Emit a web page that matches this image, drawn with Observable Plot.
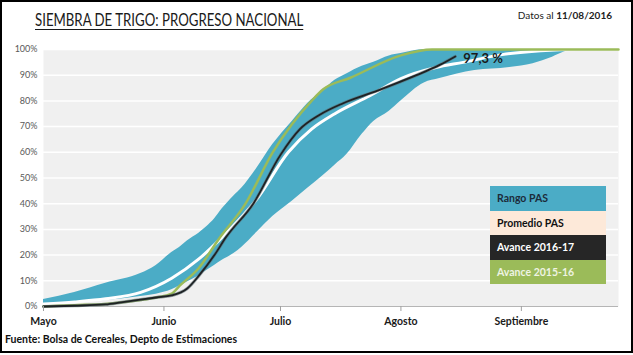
<!DOCTYPE html>
<html>
<head>
<meta charset="utf-8">
<script src="https://cdn.jsdelivr.net/npm/d3@7"></script>
<script src="https://cdn.jsdelivr.net/npm/@observablehq/plot@0.6"></script>
<style>
  html, body { margin: 0; padding: 0; background: #fff; }
  #wrap { position: relative; width: 633px; height: 355px; overflow: hidden; font-family: Lato, "Open Sans", sans-serif; }
  #border { position: absolute; left: 0; top: 0; width: 629px; height: 349px; border: 2px solid #000; pointer-events: none; }
  #title { position: absolute; left: 35px; top: 8px; font-size: 18px; color: #1a1a1a; text-decoration: underline; text-underline-offset: 3px; white-space: nowrap; transform: scaleX(0.735); transform-origin: 0 0; }
  #date { position: absolute; right: 21px; top: 9px; font-size: 10px; color: #222; white-space: nowrap; }
  #chart { position: absolute; left: 0; top: 40px; }
  #foot { position: absolute; left: 5px; top: 333px; font-size: 10.5px; font-weight: bold; color: #111; white-space: nowrap; }
  #legend { position: absolute; left: 490px; top: 186px; width: 116px; }
  #legend div { height: 24.5px; line-height: 24.5px; padding-left: 7px; font-size: 10.5px; font-weight: bold; box-sizing: border-box; }
</style>
</head>
<body>
<div id="wrap">
  <div id="title">SIEMBRA DE TRIGO: PROGRESO NACIONAL</div>
  <div id="date">Datos al <b>11/08/2016</b></div>
  <div id="chart"></div>
  <div id="legend"></div>
  <div id="foot">Fuente: Bolsa de Cereales, Depto de Estimaciones</div>
  <div id="border"></div>
</div>
<script>
// ---- Data ----
const bandDates = ["2016-05-01","2016-05-09","2016-05-17","2016-05-26","2016-05-30","2016-06-03","2016-06-05","2016-06-07","2016-06-10","2016-06-12","2016-06-14","2016-06-16","2016-06-19","2016-06-21","2016-06-25","2016-06-29","2016-07-04","2016-07-08","2016-07-12","2016-07-15","2016-07-18","2016-07-22","2016-07-25","2016-07-29","2016-08-01","2016-08-07","2016-08-11","2016-08-20","2016-08-29","2016-09-04","2016-09-09","2016-09-12","2016-09-15","2016-09-26"];
const bandLow  = [0.8, 1.6, 2.3, 3.9, 4.8, 6.5, 8, 9.5, 12, 14, 16, 18, 20.6, 23, 29, 35, 41, 46, 51, 55, 59, 67, 72, 76, 80, 87, 88.7, 91.8, 93, 94.5, 97, 99, 100, 100];
const bandHigh = [2.7, 5.4, 9, 12.8, 16, 21, 23, 25.5, 28.5, 31, 34, 38, 43, 46, 54, 63, 72, 79, 84, 88, 90.5, 93.5, 95, 97.5, 98.4, 100, 100, 100, 100, 100, 100, 100, 100, 100];

const promDates  = ["2016-05-01","2016-05-09","2016-05-17","2016-05-26","2016-06-03","2016-06-10","2016-06-16","2016-06-25","2016-07-03","2016-07-09","2016-07-15","2016-07-24","2016-08-01","2016-08-10","2016-08-17","2016-08-27","2016-09-06","2016-09-16","2016-09-26"];
const promValues = [1, 1.8, 3, 5.5, 11, 18.5, 27, 42, 60, 69, 75, 82, 88.7, 93, 95, 98, 99.5, 100, 100];

const av1617Dates  = ["2016-05-01","2016-05-09","2016-05-17","2016-05-21","2016-05-30","2016-06-03","2016-06-07","2016-06-10","2016-06-14","2016-06-17","2016-06-24","2016-07-01","2016-07-06","2016-07-11","2016-07-17","2016-07-26","2016-08-05","2016-08-11","2016-08-15"];
const av1617Values = [0, 0.3, 0.8, 1.6, 3.5, 4.3, 7, 12, 20, 27, 40, 59, 69, 74.5, 79, 84, 90, 94, 97.3];

const av1516Dates  = ["2016-05-01","2016-05-09","2016-05-17","2016-05-26","2016-05-30","2016-06-03","2016-06-05","2016-06-10","2016-06-15","2016-06-22","2016-06-29","2016-07-04","2016-07-09","2016-07-12","2016-07-19","2016-08-01","2016-08-09","2016-09-26"];
const av1516Values = [0, 0.5, 1, 2.5, 3.5, 5, 8, 15, 26, 40, 60, 71, 80, 84.5, 89, 97.7, 100, 100];

const yTicks = [0, 10, 20, 30, 40, 50, 60, 70, 80, 90, 100];
const monthTicks  = ["2016-05-01","2016-06-01","2016-07-01","2016-08-01","2016-09-01"];
const monthLabels = ["Mayo","Junio","Julio","Agosto","Septiembre"];
const xDomain = ["2016-05-01","2016-09-26"];

const legendLabels = ["Rango PAS","Promedio PAS","Avance 2016-17","Avance 2015-16"];
const legendFills  = ["#4BACC6","#FDE9D9","#262626","#9BBB59"];
const legendTexts  = ["#1c2b3a","#111","#fff","#eef3e2"];

// ---- Build tables ----
const toDate = s => new Date(s + "T00:00:00Z");
const band = bandDates.map((d, i) => ({date: toDate(d), lo: bandLow[i], hi: bandHigh[i]}));
const prom = promDates.map((d, i) => ({date: toDate(d), v: promValues[i]}));
const av1617 = av1617Dates.map((d, i) => ({date: toDate(d), v: av1617Values[i]}));
const av1516 = av1516Dates.map((d, i) => ({date: toDate(d), v: av1516Values[i]}));
const ticks = monthTicks.map(toDate);

const chart = Plot.plot({
  width: 633,
  height: 290,
  marginLeft: 43,
  marginRight: 15,
  marginTop: 9,
  marginBottom: 24,
  style: {fontFamily: "Lato, 'Open Sans', sans-serif", fontSize: "10px", background: "transparent", overflow: "visible"},
  x: {type: "utc", domain: xDomain.map(toDate)},
  y: {domain: [0, 100]},
  marks: [
    Plot.frame({fill: "#f0f0f0", stroke: null}),
    Plot.ruleY(yTicks.filter(d => d > 0), {stroke: "white", strokeWidth: 1.5}),
    Plot.ruleY([0], {stroke: "#b5b5b5", strokeWidth: 1}),
    Plot.areaY(band, {x: "date", y1: "lo", y2: "hi", fill: "#4BACC6", curve: "monotone-x"}),
    Plot.lineY(prom, {x: "date", y: "v", stroke: "white", strokeWidth: 3, curve: "monotone-x"}),
    Plot.lineY(av1516, {x: "date", y: "v", stroke: "#9BBB59", strokeWidth: 2.5, curve: "monotone-x"}),
    Plot.lineY(av1617, {x: "date", y: "v", stroke: "#5a6a70", strokeWidth: 3.2, strokeOpacity: 0.6, curve: "monotone-x"}),
    Plot.lineY(av1617, {x: "date", y: "v", stroke: "#1e2224", strokeWidth: 1.8, curve: "monotone-x"}),
    Plot.text(av1617.slice(-1), {x: "date", y: "v", text: d => d.v.toFixed(1).replace(".", ",") + " %", textAnchor: "start", dx: 8, dy: 2, fontSize: 13, fontWeight: "bold", fill: "#1a1a1a"}),
    Plot.axisY(yTicks, {tickSize: 0, tickPadding: 6, tickFormat: d => d + "%", fontSize: 9, fill: "#595959"}),
    Plot.axisX(ticks, {tickSize: 5, tickPadding: 6, stroke: "#a0a0a0", fill: "#1a1a1a", fontWeight: "bold", fontSize: 10.5,
      tickFormat: d => monthLabels[ticks.findIndex(t => +t === +d)]})
  ]
});
document.getElementById("chart").appendChild(chart);

const legend = document.getElementById("legend");
legendLabels.forEach((label, i) => {
  const row = document.createElement("div");
  row.textContent = label;
  row.style.background = legendFills[i];
  row.style.color = legendTexts[i];
  legend.appendChild(row);
});
</script>
</body>
</html>
